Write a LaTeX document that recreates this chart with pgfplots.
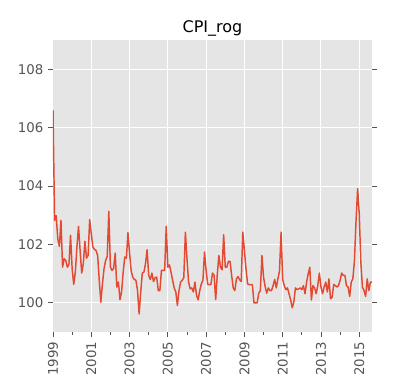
\documentclass[border=0pt]{standalone}
\usepackage{pgfplots}
\usepackage{pgfplotstable}
\pgfplotsset{compat=1.18}
\usepackage{fontspec}
\setmainfont{DejaVu Sans}
\definecolor{bgc}{HTML}{E5E5E5}
\definecolor{linec}{HTML}{E24A33}
\definecolor{tickc}{HTML}{555555}
\pgfplotstableread{
m v
0 106.6
1 102.82
2 102.99
3 102.19
4 101.93
5 102.82
6 101.22
7 101.51
8 101.45
9 101.22
10 101.31
11 102.31
12 101.17
13 100.63
14 101.05
15 101.91
16 102.62
17 101.79
18 101.02
19 101.34
20 102.11
21 101.53
22 101.62
23 102.85
24 102.37
25 101.91
26 101.83
27 101.79
28 101.62
29 100.77
30 100.02
31 100.65
32 101.17
33 101.45
34 101.59
35 103.13
36 101.22
37 101.11
38 101.17
39 101.70
40 100.54
41 100.71
42 100.11
43 100.37
44 101.05
45 101.57
46 101.53
47 102.40
48 101.70
49 101.10
50 100.88
51 100.80
52 100.77
53 100.42
54 99.62
55 100.37
56 101.02
57 101.05
58 101.34
59 101.82
60 100.94
61 100.80
62 101.02
63 100.73
64 100.86
65 100.88
66 100.42
67 100.42
68 101.11
69 101.11
70 101.11
71 102.62
72 101.22
73 101.30
74 101.05
75 100.77
76 100.51
77 100.37
78 99.91
79 100.42
80 100.71
81 100.77
82 100.86
83 102.42
84 101.51
85 100.71
86 100.48
87 100.51
88 100.37
89 100.71
90 100.25
91 100.10
92 100.42
93 100.65
94 100.77
95 101.74
96 101.11
97 100.63
98 100.62
99 100.62
100 101.02
101 100.94
102 100.11
103 100.97
104 101.62
105 101.22
106 101.13
107 102.33
108 101.22
109 101.22
110 101.42
111 101.42
112 100.94
113 100.51
114 100.42
115 100.82
116 100.90
117 100.79
118 100.73
119 102.42
120 101.79
121 101.17
122 100.65
123 100.62
124 100.62
125 100.62
126 100.00
127 100.00
128 100.00
129 100.33
130 100.42
131 101.62
132 100.88
133 100.56
134 100.33
135 100.51
136 100.42
137 100.42
138 100.59
139 100.80
140 100.51
141 100.82
142 101.09
143 102.42
144 100.80
145 100.59
146 100.45
147 100.51
148 100.31
149 100.10
150 99.83
151 100.03
152 100.51
153 100.45
154 100.48
155 100.51
156 100.45
157 100.59
158 100.31
159 100.71
160 100.99
161 101.22
162 100.10
163 100.59
164 100.51
165 100.31
166 100.59
167 101.02
168 100.54
169 100.31
170 100.54
171 100.71
172 100.37
173 100.82
174 100.14
175 100.19
176 100.63
177 100.59
178 100.54
179 100.59
180 100.77
181 101.02
182 100.94
183 100.94
184 100.59
185 100.54
186 100.22
187 100.71
188 100.82
189 101.45
190 102.82
191 103.91
192 103.05
193 101.39
194 100.54
195 100.42
196 100.22
197 100.82
198 100.42
199 100.71
200 100.71
}\cpidata
\begin{document}
\begin{tikzpicture}
\begin{axis}[
  scale only axis,
  width=239.25pt, height=219pt,
  xmin=1999, xmax=2015.6667,
  ymin=99, ymax=109,
  axis background/.style={fill=bgc},
  axis line style={draw=none},
  xtick={1999,2001,...,2015},
  minor xtick={2000,2002,...,2014},
  ytick={100,102,...,108},
  xticklabel style={rotate=90, anchor=east},
  xticklabels={1999,2001,2003,2005,2007,2009,2011,2013,2015},
  grid=major,
  major grid style={white, line width=0.75pt},
  minor grid style={draw=none},
  tick align=outside,
  xtick pos=bottom,
  ytick pos=both,
  yticklabel pos=left,
  major tick length=3.75pt,
  minor tick length=2.2pt,
  tick style={tickc, line width=0.6pt},
  ticklabel style={font=\fontsize{10}{12}\selectfont, text=tickc},
  /pgf/number format/assume math mode=true,
  /pgf/number format/1000 sep={},
  title={CPI\_rog},
  title style={at={(0.5,1)}, anchor=base, yshift=0pt, font=\fontsize{12}{14}\selectfont},
]
\addplot[linec, line width=1.1pt, line join=round] table[x expr=1999+\thisrow{m}/12, y=v] {\cpidata};
\end{axis}
\path[use as bounding box] ([xshift=-39.75pt, yshift=-43.5pt]current axis.south west) rectangle ([xshift=30.75pt, yshift=30pt]current axis.north east);
\end{tikzpicture}
\end{document}
